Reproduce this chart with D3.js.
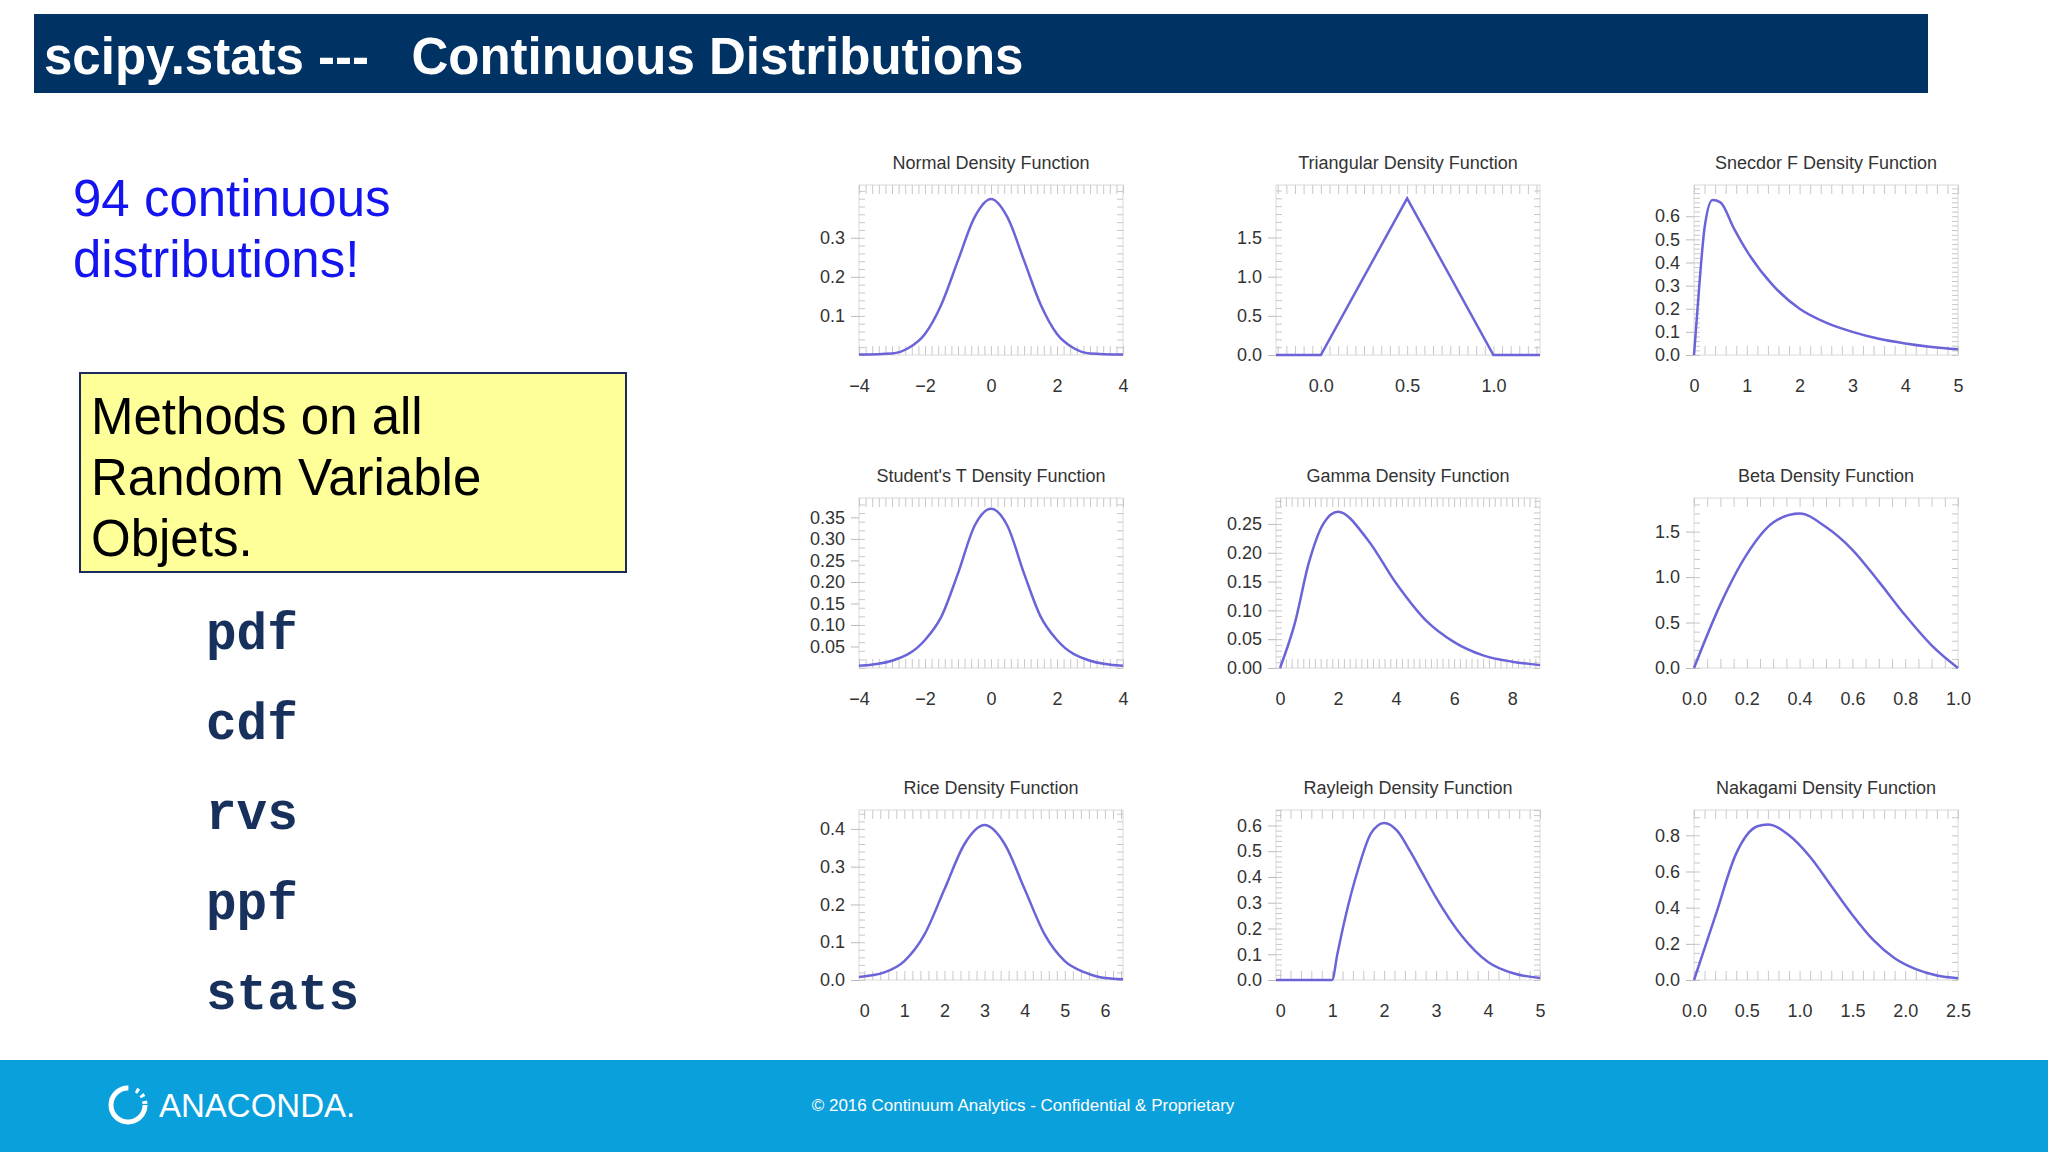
<!DOCTYPE html>
<html><head><meta charset="utf-8">
<script src="https://cdn.jsdelivr.net/npm/d3@7"></script>
<style>body{margin:0;background:#fff}svg{display:block}</style>
</head><body>
<svg id="c" width="2048" height="1152"></svg>
<script>
// --- Data ---
const titles = ["Normal Density Function", "Triangular Density Function", "Snecdor F Density Function",
  "Student's T Density Function", "Gamma Density Function", "Beta Density Function",
  "Rice Density Function", "Rayleigh Density Function", "Nakagami Density Function"];
const xDomains = [[-4, 4], [-0.26, 1.27], [0, 5], [-4, 4], [-0.14, 8.96], [0, 1], [-0.13, 6.45], [-0.08, 5], [0, 2.5]];
const yDomains = [[0, 0.435], [0, 2.17], [0, 0.735], [0, 0.395], [0, 0.295], [0, 1.87], [0, 0.45], [0, 0.66], [0, 0.94]];
const xTicks = [[-4, -2, 0, 2, 4], [0, 0.5, 1], [0, 1, 2, 3, 4, 5], [-4, -2, 0, 2, 4], [0, 2, 4, 6, 8],
  [0, 0.2, 0.4, 0.6, 0.8, 1], [0, 1, 2, 3, 4, 5, 6], [0, 1, 2, 3, 4, 5], [0, 0.5, 1, 1.5, 2, 2.5]];
const yTicks = [[0.1, 0.2, 0.3], [0, 0.5, 1, 1.5], [0, 0.1, 0.2, 0.3, 0.4, 0.5, 0.6],
  [0.05, 0.1, 0.15, 0.2, 0.25, 0.3, 0.35], [0, 0.05, 0.1, 0.15, 0.2, 0.25], [0, 0.5, 1, 1.5],
  [0, 0.1, 0.2, 0.3, 0.4], [0, 0.1, 0.2, 0.3, 0.4, 0.5, 0.6], [0, 0.2, 0.4, 0.6, 0.8]];
const xFmt = [".0f", ".1f", ".0f", ".0f", ".0f", ".1f", ".0f", ".0f", ".1f"];
const yFmt = [".1f", ".1f", ".1f", ".2f", ".2f", ".1f", ".1f", ".1f", ".1f"];
const curveX = [
  [-4, -3, -2.5, -2, -1.5, -1, -0.5, 0, 0.5, 1, 1.5, 2, 2.5, 3, 4],
  [-0.26, 0, 0.5, 1, 1.27],
  [0, 0.1, 0.2, 0.35, 0.5, 0.75, 1, 1.5, 2, 2.5, 3, 3.5, 4, 4.5, 5],
  [-4, -3, -2, -1.5, -1, -0.5, 0, 0.5, 1, 1.5, 2, 3, 4],
  [0, 0.5, 1, 1.5, 2, 3, 4, 5, 6, 7, 8, 8.96],
  [0, 0.1, 0.2, 0.3, 0.4, 0.5, 0.6, 0.7, 0.8, 0.9, 1],
  [-0.13, 0.5, 1, 1.5, 2, 2.5, 3, 3.5, 4, 4.5, 5, 5.5, 6, 6.45],
  [-0.08, 1, 1.1, 1.25, 1.5, 1.75, 2, 2.25, 2.5, 2.75, 3, 3.5, 4, 4.5, 5],
  [0, 0.2, 0.4, 0.6, 0.7, 0.9, 1.1, 1.3, 1.5, 1.7, 1.9, 2.1, 2.3, 2.5]];
const curveY = [
  [0.001, 0.004, 0.018, 0.054, 0.13, 0.242, 0.352, 0.399, 0.352, 0.242, 0.13, 0.054, 0.018, 0.004, 0.001],
  [0, 0, 2, 0, 0],
  [0, 0.3, 0.55, 0.67, 0.66, 0.55, 0.45, 0.3, 0.2, 0.14, 0.1, 0.07, 0.05, 0.035, 0.025],
  [0.005, 0.017, 0.065, 0.12, 0.22, 0.33, 0.37, 0.33, 0.22, 0.12, 0.065, 0.017, 0.005],
  [0, 0.076, 0.184, 0.251, 0.271, 0.224, 0.147, 0.084, 0.045, 0.022, 0.011, 0.005],
  [0, 0.7, 1.25, 1.6, 1.7, 1.55, 1.3, 0.95, 0.58, 0.25, 0],
  [0.008, 0.02, 0.05, 0.12, 0.24, 0.36, 0.41, 0.36, 0.24, 0.12, 0.05, 0.02, 0.005, 0.002],
  [0, 0, 0.1, 0.24, 0.43, 0.57, 0.61, 0.58, 0.5, 0.41, 0.32, 0.17, 0.07, 0.025, 0.008],
  [0, 0.35, 0.7, 0.85, 0.86, 0.8, 0.68, 0.52, 0.36, 0.22, 0.12, 0.06, 0.025, 0.01]];
const methods = ["pdf", "cdf", "rvs", "ppf", "stats"];

const svg = d3.select("#c");

// header
svg.append("rect").attr("x", 34).attr("y", 14).attr("width", 1894).attr("height", 79).attr("fill", "#003263");
svg.append("text").attr("x", 44).attr("y", 74).attr("fill", "#fff")
  .style("font", "bold 51px 'Liberation Sans', Arial").attr("xml:space", "preserve")
  .text("scipy.stats ---   Continuous Distributions");

// left text
["94 continuous", "distributions!"].forEach((t, i) => svg.append("text")
  .attr("x", 73).attr("y", 216 + i * 61).attr("fill", "#1414f0")
  .style("font", "51px 'Liberation Sans', Arial").text(t));
svg.append("rect").attr("x", 80).attr("y", 373).attr("width", 546).attr("height", 199)
  .attr("fill", "#ffff99").attr("stroke", "#1a2a5a").attr("stroke-width", 2);
["Methods on all", "Random Variable", "Objets."].forEach((t, i) => svg.append("text")
  .attr("x", 91).attr("y", 434 + i * 61).attr("fill", "#000")
  .style("font", "51px 'Liberation Sans', Arial").text(t));
methods.forEach((t, i) => svg.append("text")
  .attr("x", 206).attr("y", 649 + i * 90).attr("fill", "#17305c")
  .style("font", "bold 51px 'Liberation Mono', 'Courier New', monospace").text(t));

// footer
svg.append("rect").attr("x", 0).attr("y", 1060).attr("width", 2048).attr("height", 92).attr("fill", "#0aa0dc");
svg.append("circle").attr("cx", 128).attr("cy", 1105).attr("r", 17).attr("fill", "none")
  .attr("stroke", "#fff").attr("stroke-width", 5).attr("stroke-dasharray", "80 8 3 4 3 4 3 4");
svg.append("text").attr("x", 159).attr("y", 1117).attr("fill", "#fff")
  .style("font", "33px 'Liberation Sans', Arial").text("ANACONDA.");
svg.append("text").attr("x", 1023).attr("y", 1111).attr("fill", "#fff").attr("text-anchor", "middle")
  .style("font", "17px 'Liberation Sans', Arial").text("\u00a9 2016 Continuum Analytics - Confidential & Proprietary");

// panels
const colX = [859, 1276, 1694], rowY = [185, 498, 810];
const pw = 264, ph = 170;
const font = "18px 'Liberation Sans', Arial";
titles.forEach((title, i) => {
  const g = svg.append("g").attr("transform", `translate(${colX[i % 3]},${rowY[Math.floor(i / 3)]})`);
  const x = d3.scaleLinear().domain(xDomains[i]).range([0, pw]);
  const y = d3.scaleLinear().domain(yDomains[i]).range([ph, 0]);

  // light frame with minor ticks
  g.append("rect").attr("width", pw).attr("height", ph).attr("fill", "none").attr("stroke", "#dadada");
  const minor = (axis, tr) => {
    const a = g.append("g").attr("transform", tr).call(axis.tickFormat("").tickSizeOuter(0));
    a.select(".domain").remove();
    a.selectAll("line").attr("stroke", "#c8c8c8");
  };
  minor(d3.axisBottom(x).ticks(30).tickSize(9), "translate(0,0)");
  minor(d3.axisTop(x).ticks(30).tickSize(9), `translate(0,${ph})`);
  minor(d3.axisRight(y).ticks(25).tickSize(6), "translate(0,0)");
  minor(d3.axisLeft(y).ticks(25).tickSize(6), `translate(${pw},0)`);

  // labelled axes
  const xa = g.append("g").attr("transform", `translate(0,${ph})`)
    .call(d3.axisBottom(x).tickValues(xTicks[i]).tickFormat(d3.format(xFmt[i])).tickSize(0).tickPadding(24));
  const ya = g.append("g")
    .call(d3.axisLeft(y).tickValues(yTicks[i]).tickFormat(d3.format(yFmt[i])).tickSize(8).tickPadding(6));
  [xa, ya].forEach(a => {
    a.select(".domain").remove();
    a.selectAll("line").attr("stroke", "#bbb");
    a.selectAll("text").style("font", font).attr("fill", "#333");
  });

  g.append("text").attr("x", pw / 2).attr("y", -16).attr("text-anchor", "middle")
    .style("font", font).attr("fill", "#333").text(title);

  const pts = curveX[i].map((v, k) => [v, curveY[i][k]]);
  g.append("path").datum(pts).attr("fill", "none").attr("stroke", "#6a64d8").attr("stroke-width", 2.5)
    .attr("d", d3.line().x(d => x(d[0])).y(d => y(d[1]))
      .curve(i === 1 ? d3.curveLinear : d3.curveMonotoneX));
});
</script>
</body></html>
